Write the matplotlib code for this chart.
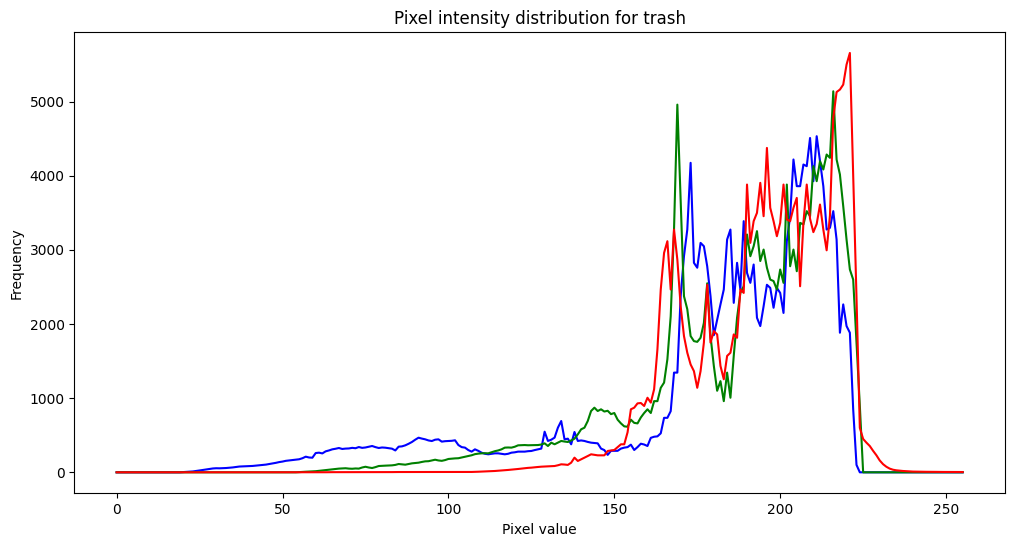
import matplotlib
matplotlib.use("Agg")
import matplotlib.pyplot as plt
import numpy as np

pixel_values = list(range(256))

blue_counts = [
    0, 0, 0, 0, 0, 0, 0, 0, 0, 0, 0, 0, 0, 0, 0, 0, 0, 0, 0, 0,
    3, 5, 8, 12, 18, 25, 32, 40, 45, 52, 55, 54, 56, 58, 62, 66, 72, 78, 80, 82,
    84, 86, 90, 95, 100, 104, 112, 120, 128, 138, 145, 155, 160, 166, 170, 176, 190, 211, 200, 197,
    260, 265, 255, 283, 295, 310, 318, 328, 315, 320, 322, 330, 325, 341, 330, 335, 345, 355, 340, 328,
    335, 332, 325, 319, 295, 346, 350, 364, 385, 409, 440, 467, 455, 445, 430, 422, 440, 445, 414, 420,
    423, 425, 432, 368, 340, 333, 300, 279, 310, 290, 265, 250, 243, 250, 256, 256, 250, 243, 250, 265,
    270, 279, 279, 279, 285, 288, 300, 310, 320, 548, 423, 440, 468, 602, 692, 445, 454, 378, 544, 423,
    430, 423, 410, 400, 395, 391, 320, 300, 235, 290, 290, 290, 320, 333, 340, 373, 301, 340, 386, 375,
    355, 465, 480, 485, 526, 735, 735, 825, 1345, 1345, 2376, 2915, 3275, 4175, 2826, 2760, 3095, 3050, 2780, 2376,
    1850, 2060, 2265, 2466, 3140, 3275, 2286, 2826, 2466, 3388, 2690, 2556, 2803, 2085, 1973, 2240, 2530, 2488, 2220, 2488,
    2420, 2150, 3118, 3455, 4220, 3860, 3860, 4152, 4130, 4510, 3927, 4534, 4197, 3860, 3275, 3298, 3523, 3140, 1883, 2265,
    1973, 1883, 850, 100, 0, 0, 0, 0, 0, 0, 0, 0, 0, 0, 0, 0, 0, 0, 0, 0,
    0, 0, 0, 0, 0, 0, 0, 0, 0, 0, 0, 0, 0, 0, 0, 0,
]

green_counts = [
    0, 0, 0, 0, 0, 0, 0, 0, 0, 0, 0, 0, 0, 0, 0, 0, 0, 0, 0, 0,
    0, 0, 0, 0, 0, 0, 0, 0, 0, 0, 0, 0, 0, 0, 0, 0, 0, 0, 0, 0,
    0, 0, 0, 0, 0, 0, 0, 0, 0, 0, 0, 0, 0, 0, 0, 3, 5, 8, 10, 12,
    15, 20, 25, 30, 35, 40, 45, 50, 52, 55, 50, 48, 52, 50, 65, 75, 65, 58, 70, 85,
    88, 90, 92, 94, 100, 112, 108, 103, 112, 121, 125, 130, 140, 148, 150, 160, 170, 160, 155, 165,
    180, 184, 188, 190, 200, 210, 220, 230, 245, 252, 256, 258, 256, 270, 285, 295, 310, 333, 335, 333,
    345, 364, 366, 368, 365, 366, 368, 368, 375, 391, 355, 400, 378, 400, 423, 415, 409, 430, 454, 512,
    580, 602, 692, 827, 872, 827, 850, 820, 830, 785, 800, 710, 660, 620, 615, 710, 667, 660, 740, 800,
    850, 800, 960, 960, 1140, 1210, 1525, 2105, 3275, 4960, 3680, 2376, 2200, 1838, 1770, 1760, 1815, 2015, 2550, 1838,
    1435, 1100, 1230, 960, 1345, 1006, 1570, 2085, 2420, 2510, 3208, 2915, 3050, 3253, 2850, 3005, 2760, 2600, 2580, 2466,
    2736, 2556, 3882, 2780, 3005, 2713, 3365, 3343, 3523, 3455, 4130, 3927, 4197, 4085, 4287, 4242, 5140, 4220, 4018, 3590,
    3140, 2736, 2600, 1750, 900, 0, 0, 0, 0, 0, 0, 0, 0, 0, 0, 0, 0, 0, 0, 0,
    0, 0, 0, 0, 0, 0, 0, 0, 0, 0, 0, 0, 0, 0, 0, 0,
]

red_counts = [
    0, 0, 0, 0, 0, 0, 0, 0, 0, 0, 0, 0, 0, 0, 0, 0, 0, 0, 0, 0,
    0, 0, 0, 0, 0, 0, 0, 0, 0, 0, 0, 0, 0, 0, 0, 0, 0, 0, 0, 0,
    0, 0, 0, 0, 0, 0, 0, 0, 0, 0, 0, 0, 0, 0, 0, 0, 0, 0, 0, 0,
    1, 1, 1, 1, 2, 2, 2, 2, 2, 2, 2, 3, 3, 3, 3, 3, 3, 3, 3, 3,
    3, 3, 3, 3, 4, 4, 4, 4, 4, 4, 4, 4, 4, 4, 4, 5, 5, 5, 5, 5,
    5, 5, 5, 5, 5, 5, 5, 5, 6, 8, 10, 12, 14, 16, 18, 22, 25, 28, 32, 36,
    40, 45, 50, 55, 60, 63, 68, 72, 76, 78, 80, 82, 85, 95, 108, 105, 100, 130, 198, 153,
    175, 198, 220, 243, 236, 229, 229, 229, 288, 295, 301, 340, 378, 378, 540, 850, 872, 930, 935, 895,
    1006, 940, 1120, 1660, 2466, 2960, 3118, 2466, 3275, 2870, 2240, 1838, 1613, 1455, 1365, 1140, 1365, 1750, 2530, 1750,
    1905, 1860, 1435, 1255, 1570, 1613, 1860, 1815, 2466, 2420, 3882, 3095, 3388, 3500, 3905, 3455, 4376, 3568, 3388, 3185,
    3365, 3882, 3410, 3388, 3568, 3702, 2510, 3365, 3882, 3420, 3240, 3350, 3612, 3275, 2995, 3465, 4780, 5130, 5163, 5230,
    5500, 5657, 4005, 2360, 600, 450, 400, 355, 290, 230, 160, 110, 75, 50, 35, 27, 22, 18, 15, 12,
    10, 9, 8, 8, 7, 7, 6, 6, 5, 5, 5, 5, 4, 4, 4, 4,
]

channel_colors = ["b", "g", "r"]

fig = plt.figure(figsize=(10.14, 5.47), dpi=100)
ax = fig.add_axes([0.0733, 0.0982, 0.9178, 0.8433])
for counts, col in zip([blue_counts, green_counts, red_counts], channel_colors):
    ax.plot(pixel_values, counts, color=col)

ax.set_title("Pixel intensity distribution for trash")
ax.set_xlabel("Pixel value")
ax.set_ylabel("Frequency")

fig.savefig("out.png", dpi=100)
